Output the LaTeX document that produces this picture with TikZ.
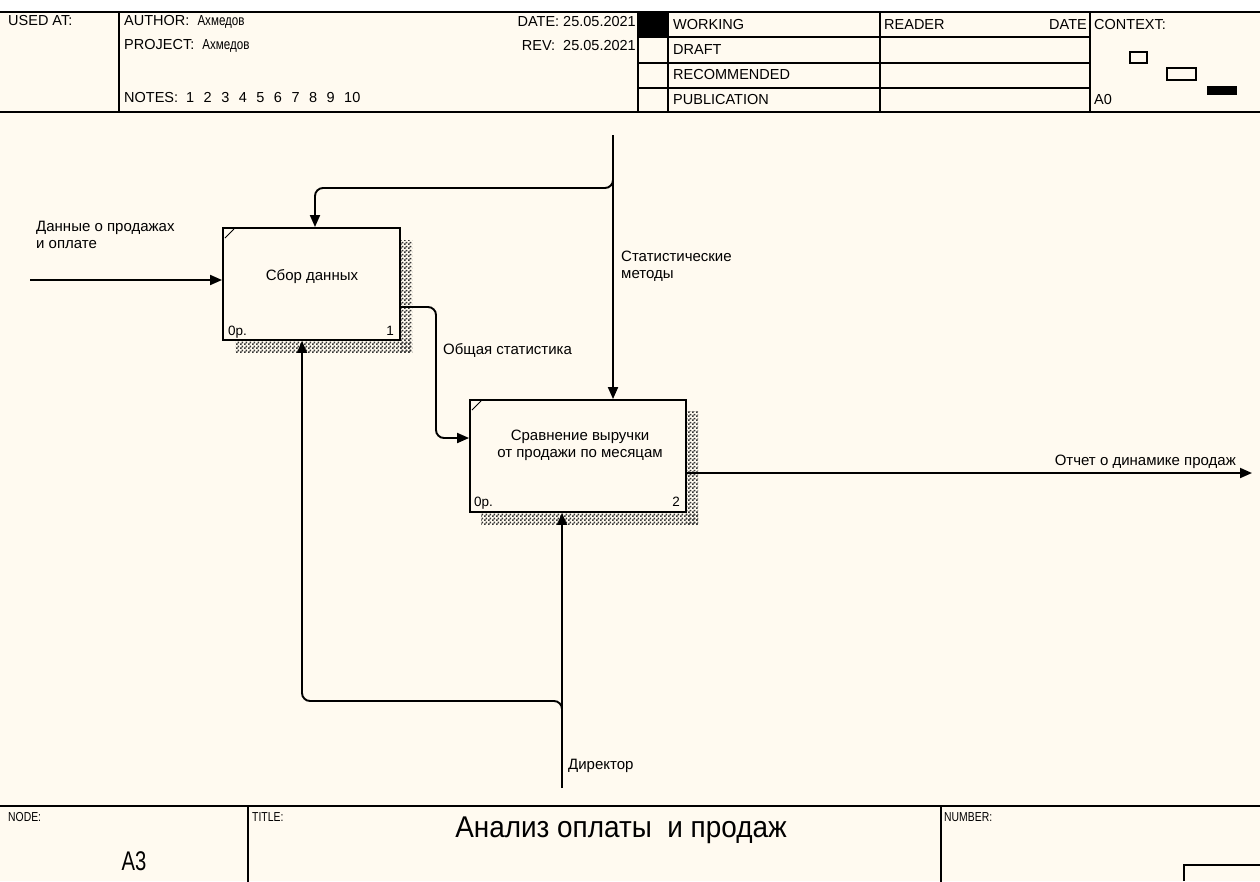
\documentclass[tikz,border=0pt]{standalone}
\usepackage{fontspec}
\setmainfont{Liberation Sans}
\usetikzlibrary{arrows.meta,patterns}
\definecolor{bgc}{HTML}{FFFAF0}
\pgfdeclarepatternformonly{shdots}{\pgfpointorigin}{\pgfpoint{4pt}{4pt}}{\pgfpoint{4pt}{4pt}}{%
  \pgfpathrectangle{\pgfpointorigin}{\pgfpoint{2pt}{2pt}}%
  \pgfpathrectangle{\pgfpoint{2pt}{2pt}}{\pgfpoint{2pt}{2pt}}%
  \pgfusepath{fill}}
\newcommand{\cyrname}{{\fontsize{14.5}{16}\selectfont\scalebox{0.8}[1]{Ахмедов}}}
\begin{document}
\begin{tikzpicture}[x=1pt,y=-1pt,
  frm/.style={line width=1.9pt, line cap=rect},
  procbox/.style={draw, line width=1.9pt, fill=bgc, minimum width=177pt, minimum height=112pt, inner sep=0pt},
  arr/.style={line width=1.9pt, -{Triangle[length=12pt,width=10pt]}},
  lbl/.style={font=\fontsize{15}{17}\selectfont, inner sep=0pt, align=left},
  hd/.style={font=\fontsize{14.5}{16}\selectfont, inner sep=0pt},
  ft/.style={font=\fontsize{13.5}{15}\selectfont, inner sep=0pt},
  sm/.style={font=\fontsize{13}{15}\selectfont, inner sep=0pt},
  shd/.style={pattern=shdots, pattern color=black!80, draw=none}]
\fill[bgc] (0,0) rectangle (1260,881);
\fill[white] (0,0) rectangle (1260,11);
\useasboundingbox (0,0) rectangle (1260,881);

% ---------- header ----------
\draw[frm] (0,12) -- (1260,12);
\draw[frm] (0,112) -- (1260,112);
\foreach \x in {119,638,668,880,1090} \draw[frm] (\x,12) -- (\x,112);
\foreach \y in {37,63,88} \draw[frm] (638,\y) -- (1090,\y);
\fill (639,13) rectangle (667,37);
\node[hd, anchor=west] (usedat) at (8,21) {USED AT:};
\node[hd, anchor=west] (author) at (124,22) {AUTHOR:\ \ \cyrname};
\node[hd, anchor=west] (project) at (124,46) {PROJECT:\ \ \cyrname};
\node[hd, anchor=west] (notes) at (124,98) {NOTES:\hspace{8pt}1\hspace{9.5pt}2\hspace{9.5pt}3\hspace{9.5pt}4\hspace{9.5pt}5\hspace{9.5pt}6\hspace{9.5pt}7\hspace{9.5pt}8\hspace{9.5pt}9\hspace{9.5pt}10};
\node[hd, anchor=east] (date) at (636,22) {DATE: 25.05.2021};
\node[hd, anchor=east] (rev) at (636,46) {REV:\ \ 25.05.2021};
\node[hd, anchor=west] (working) at (673,25) {WORKING};
\node[hd, anchor=west] (draft) at (673,50) {DRAFT};
\node[hd, anchor=west] (recom) at (673,75) {RECOMMENDED};
\node[hd, anchor=west] (publ) at (673,100) {PUBLICATION};
\node[hd, anchor=west] (reader) at (884,25) {READER};
\node[hd, anchor=east] (rdate) at (1087,25) {DATE};
\node[hd, anchor=west] (context) at (1094,25) {CONTEXT:};
\node[hd, anchor=west] (a0) at (1094,100) {A0};
\draw[line width=1.3pt] (1130,52) rectangle (1147,63);
\draw[line width=1.3pt] (1167,68) rectangle (1196,80);
\fill (1207,86) rectangle (1237,95);

% ---------- shadows ----------
\fill[shd] (400,240) rectangle (412,352);
\fill[shd] (235,340) rectangle (412,352);
\fill[shd] (686,411) rectangle (698,524);
\fill[shd] (481,512) rectangle (698,524);

% ---------- boxes ----------
\node[procbox] (b1) at (311.5,284) {};
\node[procbox, minimum width=216pt] (b2) at (578,456) {};
\draw[line width=0.9pt] (225,238) -- (234,229);
\draw[line width=0.9pt] (472,410) -- (481,401);
\node[lbl, anchor=center] (b1t) at (312,277) {Сбор данных};
\node[lbl, align=center, anchor=center] (b2t) at (580,445) {Сравнение выручки\\от продажи по месяцам};
\node[ft, anchor=base west] (b1c) at (228,335) {0р.};
\node[ft, anchor=base east] (b1n) at (394,335) {1};
\node[ft, anchor=base west] (b2c) at (474,506) {0р.};
\node[ft, anchor=base east] (b2n) at (680,506) {2};

% ---------- connectors ----------
\coordinate (in1) at (30,280);
\draw[arr] (in1) -- (in1 -| b1.west);
\node[lbl, anchor=west] (in1l) at (36,235) {Данные о продажах\\и оплате};

\coordinate (ctop) at (613,135);
\draw[arr] (ctop) -- (ctop |- b2.north);
\coordinate (cj) at (613,178);
\coordinate (cl) at (315,188);
\draw[arr, rounded corners=8pt] (cj) |- (cl) -- (cl |- b1.north);
\node[lbl, anchor=west] (ctl) at (621,266) {Статистические\\методы};

\coordinate (o1a) at (b1.east |- 0,307);
\coordinate (o1b) at (436,438);
\draw[arr, rounded corners=8pt] (o1a) -| (o1b) -- (o1b -| b2.west);
\node[lbl, anchor=west] (o1l) at (443,350) {Общая статистика};

\coordinate (o2a) at (b2.east |- 0,473);
\coordinate (o2b) at (1252,473);
\draw[arr] (o2a) -- (o2b);
\node[lbl, anchor=east] (o2l) at (1236,462) {Отчет о динамике продаж};

\coordinate (mbot) at (562,788);
\draw[arr] (mbot) -- (mbot |- b2.south);
\coordinate (mj) at (562,708);
\coordinate (ml) at (302,701);
\draw[arr, rounded corners=8pt] (mj) |- (ml) -- (ml |- b1.south);
\node[lbl, anchor=west] (mlab) at (568,766) {Директор};

% ---------- footer ----------
\draw[frm] (0,806) -- (1260,806);
\draw[frm] (248,806) -- (248,881);
\draw[frm] (941,806) -- (941,881);
\draw[line width=1.5pt] (1184,881) -- (1184,865) -- (1260,865);
\node[sm, anchor=west] (nodel) at (8,817) {\scalebox{0.8}[1]{NODE:}};
\node[sm, anchor=west] (titlel) at (252,817) {\scalebox{0.8}[1]{TITLE:}};
\node[sm, anchor=west] (numl) at (944,817) {\scalebox{0.8}[1]{NUMBER:}};
\node[font=\fontsize{27}{29}\selectfont, inner sep=0pt, anchor=center] (a3) at (134,861) {\scalebox{0.75}[1]{A3}};
\node[font=\fontsize{30}{32}\selectfont, inner sep=0pt, anchor=center] (title) at (621,830) {\scalebox{0.93}[1]{Анализ оплаты\ \ и продаж}};
\end{tikzpicture}
\end{document}
